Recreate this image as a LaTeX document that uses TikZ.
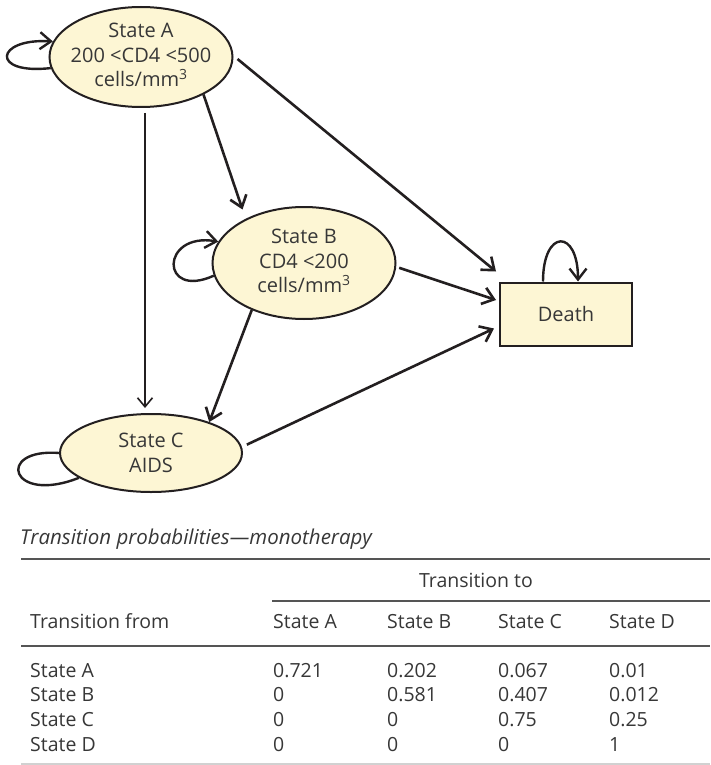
\documentclass[tikz,border=0pt]{standalone}
\usepackage{fontspec}
\setmainfont{Open Sans}
\usetikzlibrary{shapes.geometric,arrows.meta,calc}
\definecolor{fillY}{RGB}{253,246,212}
\definecolor{lineK}{RGB}{35,31,32}
\definecolor{txt}{RGB}{55,55,55}
\definecolor{ruleC}{RGB}{85,85,85}
\begin{document}
\begin{tikzpicture}[x=1pt,y=-1pt,
  state/.style={ellipse, draw=lineK, line width=2pt, fill=fillY, inner sep=0pt},
  box/.style={rectangle, draw=lineK, line width=2pt, fill=fillY, inner sep=0pt},
  lbl/.style={text=txt, font=\fontsize{20}{24.5}\selectfont, align=center, inner sep=0pt},
  arr/.style={draw=lineK, line width=2.6pt, -{Straight Barb[length=11pt,width=17pt]}},
  arrthin/.style={draw=lineK, line width=1.6pt, -{Straight Barb[length=9pt,width=15pt]}},
  loopline/.style={draw=lineK, line width=2.4pt},
  tab/.style={text=txt, font=\fontsize{19.5}{24}\selectfont, anchor=base west, inner sep=0pt},
  tabrule/.style={draw=ruleC, line width=1.5pt}]
\useasboundingbox (0,0) rectangle (710,765);

% states
\node[state, minimum width=183pt, minimum height=100pt] (A) at (141,57) {};
\node[lbl] (Alab) at ($(A)+(0,-2)$) {State A\\200 <CD4 <500\\cells/mm\textsuperscript{3}};
\node[state, minimum width=183pt, minimum height=112pt] (B) at (304,263) {};
\node[lbl] (Blab) at ($(B)+(0,-2)$) {State B\\CD4 <200\\cells/mm\textsuperscript{3}};
\node[state, minimum width=182pt, minimum height=78pt] (C) at (151,453) {};
\node[lbl] (Clab) at (C) {State C\\AIDS};
\node[box, minimum width=132pt, minimum height=63pt] (D) at (566,314) {};
\node[lbl] (Dlab) at (D) {Death};

% self loops
\draw[arr, line width=2.4pt] (A.187) .. controls (-10,75) and (-5,38) .. (A.170);
\draw[arr, line width=2.4pt] (B.188) .. controls (160,300) and (160,232) .. (B.166);
\draw[loopline] (C.180) .. controls (-5,448) and (10,505) .. (C.199);
\draw[arr, line width=2.4pt] ($(D.north)+(-23,0)$) .. controls ($(D.north)+(-23,-53)$) and ($(D.north)+(12,-53)$) .. ($(D.north)+(12,0)$);

% transitions
\draw[arr] ($(A.east)+(4,2)$) -- ($(D.north west)+(-3,-10)$);
\draw[arr] (A.329) -- ($(B.139)+(-8,-7)$);
\draw[arrthin] ($(A.south)+(4,5)$) -- ($(C.north)+(-6,-5)$);
\draw[arr] ($(B.357)+(3,0)$) -- ($(D.west)+(-3,-14)$);
\draw[arr] (B.222) -- (C.28);
\draw[arr] ($(C.4)+(5,-2)$) -- ($(D.south west)+(-5,-18)$);

% table
\node[tab, font=\fontsize{20.5}{24}\selectfont\itshape] (title) at (20,544) {Transition probabilities—monotherapy};
\draw[tabrule] (21,559) -- (710,559);
\node[tab, anchor=base] (tto) at (476,587) {Transition to};
\draw[tabrule] (272,601) -- (710,601);
\node[tab] (hfrom) at (30,628) {Transition from};
\node[tab] (hA) at (273,628) {State A};
\node[tab] (hB) at (387,628) {State B};
\node[tab] (hC) at (498,628) {State C};
\node[tab] (hD) at (609,628) {State D};
\draw[tabrule] (21,646) -- (710,646);

\node[tab] (rA) at (30,677) {State A};
\node[tab] (rA1) at (273,677) {0.721};
\node[tab] (rA2) at (387,677) {0.202};
\node[tab] (rA3) at (498,677) {0.067};
\node[tab] (rA4) at (609,677) {0.01};

\node[tab] (rB) at (30,701.7) {State B};
\node[tab] (rB1) at (273,701.7) {0};
\node[tab] (rB2) at (387,701.7) {0.581};
\node[tab] (rB3) at (498,701.7) {0.407};
\node[tab] (rB4) at (609,701.7) {0.012};

\node[tab] (rC) at (30,726.4) {State C};
\node[tab] (rC1) at (273,726.4) {0};
\node[tab] (rC2) at (387,726.4) {0};
\node[tab] (rC3) at (498,726.4) {0.75};
\node[tab] (rC4) at (609,726.4) {0.25};

\node[tab] (rD) at (30,751) {State D};
\node[tab] (rD1) at (273,751) {0};
\node[tab] (rD2) at (387,751) {0};
\node[tab] (rD3) at (498,751) {0};
\node[tab] (rD4) at (609,751) {1};

\draw[tabrule, draw=black!18] (21,764) -- (710,764);
\end{tikzpicture}
\end{document}
